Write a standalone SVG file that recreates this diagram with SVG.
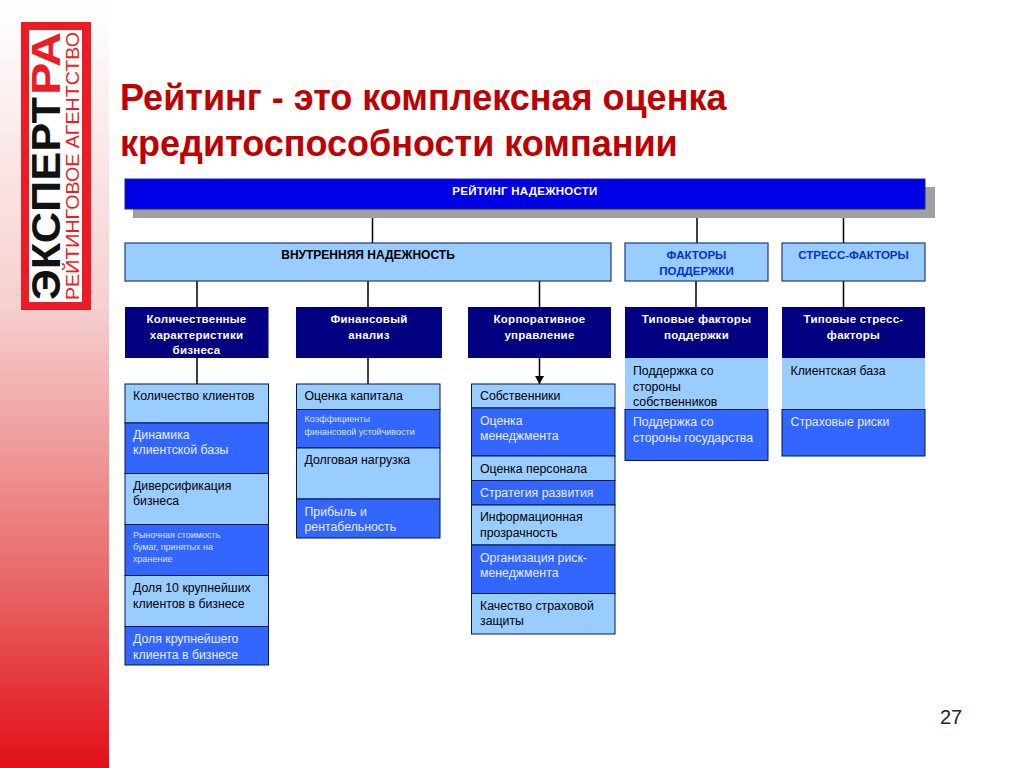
<svg xmlns="http://www.w3.org/2000/svg" width="1024" height="768" viewBox="0 0 1024 768">
<style>
text{font-family:"Liberation Sans",Arial,sans-serif}
.b{stroke:#1f3a7a;stroke-width:1.2}
.top{fill:#0000e6;stroke:#1f2a70}
.lt{fill:#99ccff}
.dk{fill:#000080}
.md{fill:#3366ff;stroke:#00184a}
.li{fill:#99ccff;stroke:#00184a}
.h{font-size:12px;font-weight:bold;text-anchor:middle;fill:#000}
.hw{font-size:11.5px;font-weight:bold;text-anchor:middle;fill:#fff;letter-spacing:.25px}
.hb{font-size:11.5px;font-weight:bold;text-anchor:middle;fill:#0033cc}
.t{font-size:12.3px;fill:#000}
.w{font-size:12.3px;fill:#e6eeff}
.s{font-size:9px;fill:#d8e4ff}
.title{font-size:36px;font-weight:bold;fill:#c00000}
.c{stroke:#000;stroke-width:1.5;fill:none;marker-end:url(#a)}
</style>
<defs>
<linearGradient id="g" x1="0" y1="0" x2="0" y2="1">
<stop offset="0" stop-color="#ffffff"/><stop offset=".4" stop-color="#f6cfcf"/><stop offset=".75" stop-color="#e96a6a"/><stop offset="1" stop-color="#e20f17"/>
</linearGradient>
<marker id="a" markerUnits="userSpaceOnUse" markerWidth="9" markerHeight="9" refX="8" refY="4.5" orient="auto"><path d="M0 0L8 4.5L0 9Z" fill="#000"/></marker>
</defs>
<rect width="1024" height="768" fill="#fff"/>
<rect width="109" height="768" fill="url(#g)"/>
<g id="logo">
<rect x="21" y="22" width="70" height="288" fill="#ed1c24"/>
<rect x="29" y="30" width="53" height="272" fill="#fff"/>
<text transform="translate(60,300) rotate(-90)" font-size="40" font-weight="bold" fill="#111" textLength="203" lengthAdjust="spacingAndGlyphs">ЭКСПЕРТ</text>
<text transform="translate(60,95) rotate(-90)" font-size="40" font-weight="bold" fill="#ed1c24" textLength="63" lengthAdjust="spacingAndGlyphs">РА</text>
<text transform="translate(79,300) rotate(-90)" font-size="19" fill="#ed1c24" textLength="268" lengthAdjust="spacingAndGlyphs">РЕЙТИНГОВОЕ АГЕНТСТВО</text>
</g>
<g id="title">
<text class="title" x="120" y="110">Рейтинг - это комплексная оценка</text>
<text class="title" x="120" y="156">кредитоспособности компании</text>
</g>
<g id="connectors">
<path class="c" d="M372.500 218V243M697 218V243M843.500 218V243M197 281V307M368 281V307M539.500 281V307M696 281V307M843.500 281V307M197 358V384M368 358V384M539.500 358V384"/>
</g>
<g id="n-rating">
<rect x="133" y="187" width="802" height="31" fill="#a0a0a0"/>
<rect class="top" x="125" y="179" width="800" height="30"/>
<text class="hw" x="525" y="195">РЕЙТИНГ НАДЕЖНОСТИ</text>
</g>
<g id="n-internal"><rect class="lt b" x="125" y="243" width="486" height="38"/><text class="h" x="368" y="259">ВНУТРЕННЯЯ НАДЕЖНОСТЬ</text></g>
<g id="n-support"><rect class="lt b" x="625" y="243" width="143" height="38"/><text class="hb" x="696.500" y="259">ФАКТОРЫ</text><text class="hb" x="696.500" y="275">ПОДДЕРЖКИ</text></g>
<g id="n-stress"><rect class="lt b" x="782" y="243" width="143" height="38"/><text class="hb" x="853.500" y="259">СТРЕСС-ФАКТОРЫ</text></g>
<g id="n-h1"><rect class="dk" x="125" y="307" width="143.500" height="51"/><text class="hw" x="196.500" y="323">Количественные</text><text class="hw" x="196.500" y="339">характеристики</text><text class="hw" x="196.500" y="354">бизнеса</text></g>
<g id="n-h2"><rect class="dk" x="296" y="307" width="146" height="51"/><text class="hw" x="369" y="323">Финансовый</text><text class="hw" x="369" y="339">анализ</text></g>
<g id="n-h3"><rect class="dk" x="468" y="307" width="143" height="51"/><text class="hw" x="539.500" y="323">Корпоративное</text><text class="hw" x="539.500" y="339">управление</text></g>
<g id="n-h4"><rect class="dk" x="625" y="307" width="143" height="51"/><text class="hw" x="696.500" y="323">Типовые факторы</text><text class="hw" x="696.500" y="339">поддержки</text></g>
<g id="n-h5"><rect class="dk" x="782" y="307" width="143" height="51"/><text class="hw" x="853.500" y="323">Типовые стресс-</text><text class="hw" x="853.500" y="339">факторы</text></g>

<g id="c1-1"><rect class="li" x="125" y="384" width="143.500" height="39"/><text class="t" x="133" y="400">Количество клиентов</text></g>
<g id="c1-2"><rect class="md" x="125" y="423" width="143.500" height="50.500"/><text class="w" x="133" y="439">Динамика</text><text class="w" x="133" y="454">клиентской базы</text></g>
<g id="c1-3"><rect class="li" x="125" y="473.500" width="143.500" height="51"/><text class="t" x="133" y="490">Диверсификация</text><text class="t" x="133" y="505">бизнеса</text></g>
<g id="c1-4"><rect class="md" x="125" y="524.500" width="143.500" height="51"/><text class="s" x="133" y="538">Рыночная стоимость</text><text class="s" x="133" y="550">бумаг, принятых на</text><text class="s" x="133" y="562">хранение</text></g>
<g id="c1-5"><rect class="li" x="125" y="575.500" width="143.500" height="51"/><text class="t" x="133" y="592">Доля 10 крупнейших</text><text class="t" x="133" y="608">клиентов в бизнесе</text></g>
<g id="c1-6"><rect class="md" x="125" y="626.500" width="143.500" height="38.500"/><text class="w" x="133" y="643">Доля крупнейшего</text><text class="w" x="133" y="659">клиента в бизнесе</text></g>

<g id="c2-1"><rect class="li" x="296.500" y="384" width="143.500" height="25.500"/><text class="t" x="304.500" y="400">Оценка капитала</text></g>
<g id="c2-2"><rect class="md" x="296.500" y="409.500" width="143.500" height="38.500"/><text class="s" x="304.500" y="422">Коэффициенты</text><text class="s" x="304.500" y="435">финансовой устойчивости</text></g>
<g id="c2-3"><rect class="li" x="296.500" y="448" width="143.500" height="51"/><text class="t" x="304.500" y="464">Долговая нагрузка</text></g>
<g id="c2-4"><rect class="md" x="296.500" y="499" width="143.500" height="39"/><text class="w" x="304.500" y="516">Прибыль и</text><text class="w" x="304.500" y="531">рентабельность</text></g>

<g id="c3-1"><rect class="li" x="471.500" y="384" width="143.500" height="24"/><text class="t" x="480" y="400">Собственники</text></g>
<g id="c3-2"><rect class="md" x="471.500" y="408" width="143.500" height="48"/><text class="w" x="480" y="425">Оценка</text><text class="w" x="480" y="440">менеджмента</text></g>
<g id="c3-3"><rect class="li" x="471.500" y="456" width="143.500" height="24.500"/><text class="t" x="480" y="473">Оценка персонала</text></g>
<g id="c3-4"><rect class="md" x="471.500" y="480.500" width="143.500" height="24.500"/><text class="w" x="480" y="497">Стратегия развития</text></g>
<g id="c3-5"><rect class="li" x="471.500" y="505" width="143.500" height="40"/><text class="t" x="480" y="521">Информационная</text><text class="t" x="480" y="537">прозрачность</text></g>
<g id="c3-6"><rect class="md" x="471.500" y="545" width="143.500" height="48.500"/><text class="w" x="480" y="562">Организация риск-</text><text class="w" x="480" y="577">менеджмента</text></g>
<g id="c3-7"><rect class="li" x="471.500" y="593.500" width="143.500" height="40.500"/><text class="t" x="480" y="610">Качество страховой</text><text class="t" x="480" y="625">защиты</text></g>

<g id="c4-1"><rect class="lt" x="625" y="358" width="143" height="51.500"/><text class="t" x="633" y="375">Поддержка со</text><text class="t" x="633" y="391">стороны</text><text class="t" x="633" y="406">собственников</text></g>
<g id="c4-2"><rect class="md" x="625" y="409.500" width="143" height="51"/><text class="w" x="633" y="426">Поддержка со</text><text class="w" x="633" y="442">стороны государства</text></g>
<g id="c5-1"><rect class="lt" x="782" y="358" width="143" height="51.500"/><text class="t" x="790.500" y="375">Клиентская база</text></g>
<g id="c5-2"><rect class="md" x="782" y="409.500" width="143" height="46.500"/><text class="w" x="790.500" y="426">Страховые риски</text></g>
<text id="page" x="940" y="724" font-size="20" fill="#222">27</text>
</svg>
